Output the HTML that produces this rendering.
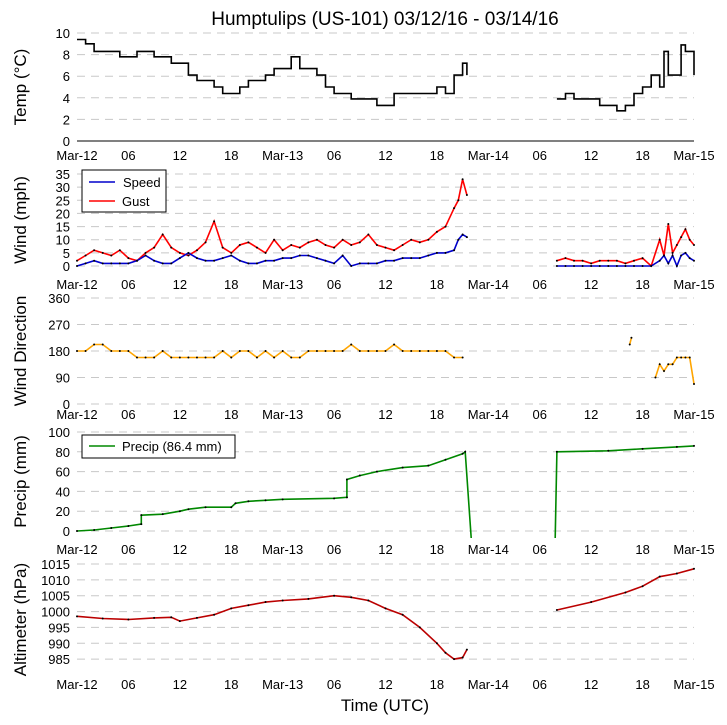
<!DOCTYPE html>
<html><head><meta charset="utf-8"><style>
body{margin:0;background:#fff}
svg{display:block;font-family:"Liberation Sans","DejaVu Sans",sans-serif}
</style></head><body>
<svg id="c" width="727" height="725" viewBox="0 0 727 725">
<text x="385" y="25" font-size="19" text-anchor="middle">Humptulips (US-101) 03/12/16 - 03/14/16</text>
<text x="385" y="711" font-size="17" text-anchor="middle">Time (UTC)</text>
</svg>
<script>
// hours since Mar-12 00 UTC; null = gap
const tempT=[0,1,2,3,4,5,6,7,8,9,10,11,12,13,14,15,16,17,18,19,20,21,22,23,24,25,26,27,28,29,30,31,32,33,34,35,36,37,38,39,40,41,42,43,44,45,45.5,null,56,57,58,59,60,61,62,63,64,65,66,67,68,68.5,69,70,70.5,71,71.5,72];
const tempV=[9.4,9.0,8.3,8.3,8.3,7.8,7.8,8.3,8.3,7.8,7.8,7.2,7.2,6.1,5.6,5.6,5.0,4.4,4.4,5.0,5.6,5.6,6.1,6.7,6.7,7.8,6.7,6.7,6.1,5.0,4.4,4.4,3.9,3.9,3.9,3.3,3.3,4.4,4.4,4.4,4.4,4.4,5.0,4.4,6.1,7.2,6.1,null,3.9,4.4,3.9,3.9,3.9,3.3,3.3,2.8,3.3,4.4,5.0,6.1,5.0,8.3,6.1,6.1,8.9,8.3,8.3,6.1];
const windT=[0,1,2,3,4,5,6,7,8,9,10,11,12,13,14,15,16,17,18,19,20,21,22,23,24,25,26,27,28,29,30,31,32,33,34,35,36,37,38,39,40,41,42,43,44,44.5,45,45.5,null,56,57,58,59,60,61,62,63,64,65,66,67,68,68.5,69,69.5,70,70.5,71,71.5,72];
const speedV=[0,1,2,1,1,1,1,2,4,2,1,1,3,5,3,2,2,3,4,2,1,1,2,2,3,3,4,4,3,2,1,4,0,1,1,1,2,2,3,3,3,4,5,5,6,10,12,11,null,0,0,0,0,0,0,0,0,0,0,0,0,2,4,1,4,0,4,5,3,2];
const gustV=[2,4,6,5,4,6,3,2,5,7,12,7,5,4,6,9,17,7,5,8,9,7,5,10,6,8,7,9,10,8,7,10,8,9,12,8,7,6,8,10,9,10,13,15,22,25,33,27,null,2,3,2,2,1,2,2,2,1,2,3,0,10,4,16,5,8,11,14,10,8];
const dirT=[0,1,2,3,4,5,6,7,8,9,10,11,12,13,14,15,16,17,18,19,20,21,22,23,24,25,26,27,28,29,30,31,32,33,34,35,36,37,38,39,40,41,42,43,44,45,null,64.5,64.7,null,67.5,68,68.5,69,69.5,70,70.5,71,71.5,72];
const dirV=[180,180,202,202,180,180,180,158,158,158,180,158,158,158,158,158,158,180,158,180,180,158,180,158,180,158,158,180,180,180,180,180,202,180,180,180,180,202,180,180,180,180,180,180,158,158,null,202,225,null,90,135,112,135,135,158,158,158,158,68];
const precT=[0,2,4,6,7.5,7.5,10,12,13,15,18,18.5,20,22,24,30,31.5,31.5,33,35,38,41,43,45,45.3,46.0,null,55.8,56,62,66,70,72];
const precV=[0,1,3,5,7,16,17,20,22,24,24,28,30,31,32,33,34,52,56,60,64,66,72,78,80,-8,null,-8,80,81,83,85,86];
const altT=[0,3,6,9,11,12,14,16,18,20,22,24,27,30,32,34,36,38,40,42,43,44,45,45.5,null,56,60,64,66,68,70,72];
const altV=[998.5,997.8,997.5,998,998.2,997,998,999,1001,1002,1003,1003.5,1004,1005,1004.5,1003.5,1001,999,995,990,987,985,985.5,988,null,1000.5,1003,1006,1008,1011,1012,1013.5];
const xTicks=["Mar-12","06","12","18","Mar-13","06","12","18","Mar-14","06","12","18","Mar-15"];

const svg=document.getElementById('c');
const NS='http://www.w3.org/2000/svg';
const X=h=>77+h*(694-77)/72;
function el(tag,attrs,parent){const e=document.createElementNS(NS,tag);for(const k in attrs)e.setAttribute(k,attrs[k]);(parent||svg).appendChild(e);return e;}
function panel(name,top,bot,vmin,vmax,ticks,labelY,ylabel,tickFs){
  const g=el('g',{});
  
  
  const Y=v=>bot-(v-vmin)/(vmax-vmin)*(bot-top);
  ticks.forEach(t=>{
    const l=el('line',{x1:77,x2:694,y1:Y(t),y2:Y(t),stroke:'#c8c8c8','stroke-dasharray':'8,6','stroke-width':1},g);
    
    
    const tx=el('text',{x:70,y:Y(t)+5,'font-size':tickFs||13,'text-anchor':'end'},g);
    tx.textContent=t;
    
    
  });
  xTicks.forEach((s,i)=>{
    const tx=el('text',{x:X(i*6),y:labelY,'font-size':13,'text-anchor':'middle'},g);
    tx.textContent=s;
    
    
  });
  const cy=(top+bot)/2;
  const yl=el('text',{x:26,y:cy,'font-size':17,'text-anchor':'middle',transform:'rotate(-90 26 '+cy+')'},g);
  yl.textContent=ylabel;
  
  
  return Y;
}
function series(name,T,V,Y,color,step,dots,clipBot){
  let segs=[],cur=[];
  T.forEach((t,i)=>{if(t===null||V[i]===null){if(cur.length)segs.push(cur);cur=[];}else cur.push([X(t),Y(V[i])]);});
  if(cur.length)segs.push(cur);
  segs.forEach(s=>{
    let pts=[];
    s.forEach((p,i)=>{if(step&&i>0)pts.push([p[0],s[i-1][1]]);pts.push(p);});
    if(clipBot!==undefined)pts=pts.map(p=>[p[0],Math.min(p[1],clipBot)]);
    const pl=el('polyline',{points:pts.map(p=>p[0].toFixed(1)+','+p[1].toFixed(1)).join(' '),fill:'none',stroke:color,'stroke-width':1.6});
    
    
    if(dots)s.forEach(p=>{if(clipBot!==undefined&&p[1]>clipBot)return;const c=el('circle',{cx:p[0],cy:p[1],r:1,fill:'#000'});
      
      });
  });
}
// Temp
const Y1=panel('temperature',33,141,0,10,[10,8,6,4,2,0],160,'Temp (\u00B0C)');
const ax=el('line',{x1:77,x2:694,y1:141,y2:141,stroke:'#000','stroke-width':1});


series('temperature',tempT,tempV,Y1,'#000',true,false);
// Wind
const Y2=panel('wind',174,266,0,35,[35,30,25,20,15,10,5,0],289,'Wind (mph)');
series('gust',windT,gustV,Y2,'#f00',false,true);
series('speed',windT,speedV,Y2,'#00c',false,true);
// Wind legend
const lg=el('g',{});


el('rect',{x:82,y:170,width:84,height:42,fill:'#fff',stroke:'#000','stroke-width':1},lg);
el('line',{x1:89,x2:115,y1:182,y2:182,stroke:'#00c','stroke-width':1.6},lg);
el('line',{x1:89,x2:115,y1:201,y2:201,stroke:'#f00','stroke-width':1.6},lg);
const t1=el('text',{x:123,y:187,'font-size':13},lg);t1.textContent='Speed';


const t2=el('text',{x:122,y:206,'font-size':13},lg);t2.textContent='Gust';


// Direction
const Y3=panel('wind-direction',298,404,0,360,[360,270,180,90,0],419,'Wind Direction');
series('direction',dirT,dirV,Y3,'#ffa500',false,true);
// Precip
const Y4=panel('precip',432,531,0,100,[100,80,60,40,20,0],554,'Precip (mm)');
series('precip',precT,precV,Y4,'#080',false,true,538);
const lg2=el('g',{});


el('rect',{x:82,y:435,width:153,height:23,fill:'#fff',stroke:'#000','stroke-width':1},lg2);
el('line',{x1:89,x2:115,y1:446,y2:446,stroke:'#080','stroke-width':1.6},lg2);
const t3=el('text',{x:122,y:451,'font-size':13},lg2);t3.textContent='Precip (86.4 mm)';


// Altimeter
const Y5=panel('altimeter',564,675,980,1015,[1015,1010,1005,1000,995,990,985],689,'Altimeter (hPa)');
series('altimeter',altT,altV,Y5,'#b00',false,true);
</script>
</body></html>
